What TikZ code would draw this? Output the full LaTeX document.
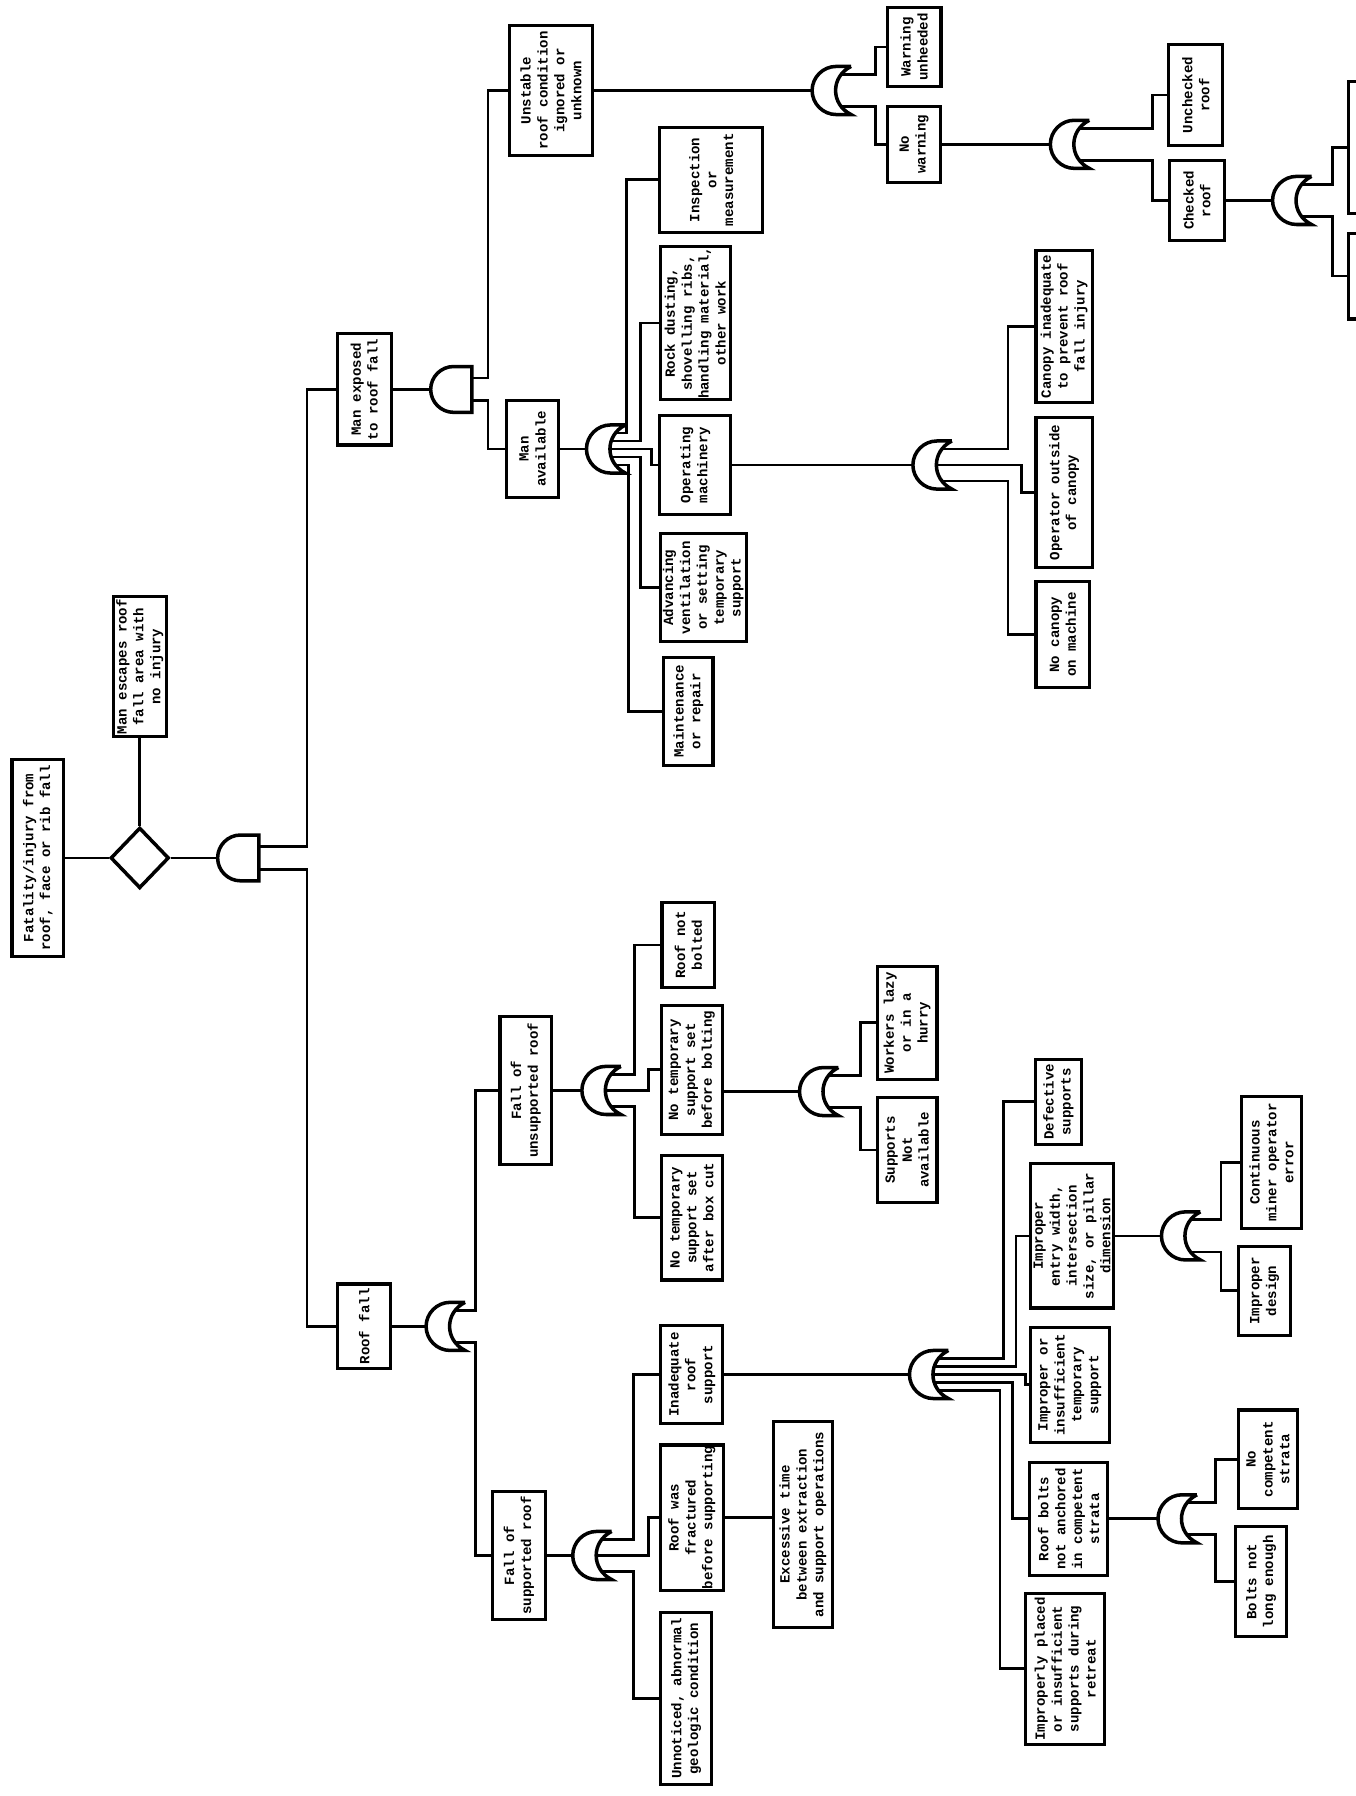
\documentclass[tikz,border=0pt]{standalone}
\usepackage{fontspec}
\setmainfont{Liberation Sans}
\setmonofont{Liberation Mono}
\usetikzlibrary{shapes.geometric}
\begin{document}
\begin{tikzpicture}[x=0.0229cm,y=-0.0229cm,
    every node/.style={font=\ttfamily\bfseries\fontsize{8}{9.6}\selectfont},
    box/.style={draw,line width=1.8pt,rotate=90,align=center,inner sep=0.5pt},
    sz/.style 2 args={minimum height=#1*0.0229cm,minimum width=#2*0.0229cm},
    cond/.style={draw,diamond,line width=2pt,inner sep=0pt,
      minimum width=51*0.0229cm,minimum height=53*0.0229cm},
    wire/.style={line width=1.6pt},
    gate/.style={line width=2pt},
    andgate/.pic={
      \draw[gate] (36,-20) -- (20,-20) .. controls (9,-20) and (0,-11) .. (0,0)
        .. controls (0,11) and (9,20) .. (20,20) -- (36,20) -- cycle;
      \coordinate (-o) at (0,0);
      \coordinate (-a) at (36,-10);
      \coordinate (-b) at (36,10);},
    orgate/.pic={
      \draw[gate] (34,-21) -- (21,-21) .. controls (9.5,-21) and (0,-11.5) .. (0,0)
        .. controls (0,11.5) and (9.5,21) .. (21,21) -- (34,21)
        .. controls (16,12) and (16,-12) .. (34,-21);
      \coordinate (-o) at (0,0);
      \coordinate (-a) at (26,-14);
      \coordinate (-c) at (22,-7);
      \coordinate (-m) at (20.5,0);
      \coordinate (-d) at (22,7);
      \coordinate (-b) at (26,14);}]
\useasboundingbox (0,0) rectangle (1183,1568);

% top event
\node[box,sz={45}{172}] (top) at (33,749) {Fatality/injury from\\roof, face or rib fall};
\node[cond] (hx) at (122,749) {};
\node[box,sz={46}{122}] (esc) at (122,582) {Man escapes roof\\fall area with\\no injury};
\pic (g0) at (190,749) {andgate};

% man exposed
\node[box,sz={47}{97}] (exp) at (318,340) {Man exposed\\to roof fall};
\pic (g1) at (376,340) {andgate};
\node[box,sz={72}{114}] (uns) at (481,79) {Unstable\\roof condition\\ignored or\\unknown};
\node[box,sz={45}{85}] (avl) at (465,392) {Man\\available};
\pic (g2) at (512,392) {orgate};
\node[box,sz={90}{92}] (insp) at (621,157) {Inspection\\or\\measurement};
\node[box,sz={61}{130}] (rock) at (607,282) {Rock dusting,\\shovelling ribs,\\handling material,\\other work};
\node[box,sz={62}{86}] (mach) at (607,406) {Operating\\machinery};
\node[box,sz={75}{94}] (vent) at (614,513) {Advancing\\ventilation\\or setting\\temporary\\support};
\node[box,sz={43}{94}] (mnt) at (601,621) {Maintenance\\or repair};
\pic (g3) at (797,406) {orgate};
\node[box,sz={49}{133}] (cnp) at (929,285) {Canopy inadequate\\to prevent roof\\fall injury};
\node[box,sz={49}{131}] (opr) at (929,430) {Operator outside\\of canopy};
\node[box,sz={47}{92}] (noc) at (928,554) {No canopy\\on machine};
\pic (g4) at (709,79) {orgate};
\node[box,sz={47}{69}] (unh) at (798,41) {Warning\\unheeded};
\node[box,sz={46}{66}] (nwr) at (798,126) {No\\warning};
\pic (g5) at (917,126) {orgate};
\node[box,sz={47}{88}] (unc) at (1044,83) {Unchecked\\roof};
\node[box,sz={48}{70}] (chk) at (1045,175) {Checked\\roof};
\pic (g6) at (1111,175) {orgate};
\node[box,sz={80}{115}] (cut1) at (1217,129) {};
\node[box,sz={80}{75}] (cut2) at (1217,241) {};

% roof fall
\node[box,sz={46}{74}] (rf) at (318,1158) {Roof fall};
\pic (g7) at (372,1158) {orgate};
\node[box,sz={45}{129}] (fun) at (459,952) {Fall of\\unsupported roof};
\node[box,sz={46}{112}] (fsu) at (453,1358) {Fall of\\supported roof};
\pic (g8) at (508,952) {orgate};
\node[box,sz={46}{74}] (nbt) at (601,825) {Roof not\\bolted};
\node[box,sz={53}{113}] (tsb) at (604,934) {No temporary\\support set\\before bolting};
\node[box,sz={53}{109}] (tsa) at (604,1063) {No temporary\\support set\\after box cut};
\pic (g9) at (698,953) {orgate};
\node[box,sz={52}{99}] (lzy) at (792,893) {Workers lazy\\or in a\\hurry};
\node[box,sz={52}{91}] (nsa) at (792,1004) {Supports\\Not\\available};
\pic (g10) at (500,1358) {orgate};
\node[box,sz={54}{86}] (ina) at (604,1200) {Inadequate\\roof\\support};
\node[box,sz={55}{127}] (frc) at (604,1325) {Roof was\\fractured\\before supporting};
\node[box,sz={52}{180}] (exc) at (701,1331) {Excessive time\\between extraction\\and support operations};
\node[box,sz={45}{150}] (geo) at (599,1483) {Unnoticed, abnormal\\geologic condition};
\pic (g11) at (794,1200) {orgate};
\node[box,sz={40}{74}] (dfs) at (924,962) {Defective\\supports};
\node[box,sz={72}{126}] (ent) at (936,1079) {Improper\\entry width,\\intersection\\size, or pillar\\dimension};
\node[box,sz={69}{100}] (tmp) at (934,1209) {Improper or\\insufficient\\temporary\\support};
\node[box,sz={68}{99}] (anc) at (933,1326) {Roof bolts\\not anchored\\in competent\\strata};
\node[box,sz={69}{132}] (ret) at (930,1457) {Improperly placed\\or insufficient\\supports during\\retreat};
\pic (g12) at (1014,1079) {orgate};
\node[box,sz={52}{115}] (cmo) at (1110,1015) {Continuous\\miner operator\\error};
\node[box,sz={45}{78}] (dsg) at (1104,1127) {Improper\\design};
\pic (g13) at (1011,1326) {orgate};
\node[box,sz={52}{86}] (ncs) at (1107,1274) {No\\competent\\strata};
\node[box,sz={44}{96}] (bnl) at (1101,1381) {Bolts not\\long enough};

% connections
\draw[wire] (top.south) -- (hx.west);
\draw[wire] (hx.north) -- (esc.west);
\draw[wire] (hx.east) -- (g0-o);
\draw[wire] (g0-a) -| (268,0 |- exp.north) -- (exp.north);
\draw[wire] (g0-b) -| (268,0 |- rf.north) -- (rf.north);
\draw[wire] (exp.south) -- (g1-o);
\draw[wire] (g1-a) -| (426,0 |- uns.north) -- (uns.north);
\draw[wire] (g1-b) -| (426,0 |- avl.north) -- (avl.north);
\draw[wire] (avl.south) -- (g2-o);
\draw[wire] (g2-a) -| (547,0 |- insp.north) -- (insp.north);
\draw[wire] (g2-c) -| (559,0 |- rock.north) -- (rock.north);
\draw[wire] (g2-m) -| (569,0 |- mach.north) -- (mach.north);
\draw[wire] (g2-d) -| (559,0 |- vent.north) -- (vent.north);
\draw[wire] (g2-b) -| (549,0 |- mnt.north) -- (mnt.north);
\draw[wire] (mach.south) -- (g3-o);
\draw[wire] (g3-a) -| (880,0 |- cnp.north) -- (cnp.north);
\draw[wire] (g3-m) -| (892,0 |- opr.north) -- (opr.north);
\draw[wire] (g3-b) -| (880,0 |- noc.north) -- (noc.north);
\draw[wire] (uns.south) -- (g4-o);
\draw[wire] (g4-a) -| (764,0 |- unh.north) -- (unh.north);
\draw[wire] (g4-b) -| (764,0 |- nwr.north) -- (nwr.north);
\draw[wire] (nwr.south) -- (g5-o);
\draw[wire] (g5-a) -| (1006,0 |- unc.north) -- (unc.north);
\draw[wire] (g5-b) -| (1006,0 |- chk.north) -- (chk.north);
\draw[wire] (chk.south) -- (g6-o);
\draw[wire] (g6-a) -| (1163,0 |- cut1.north) -- (cut1.north);
\draw[wire] (g6-b) -| (1163,0 |- cut2.north) -- (cut2.north);
\draw[wire] (rf.south) -- (g7-o);
\draw[wire] (g7-a) -| (415,0 |- fun.north) -- (fun.north);
\draw[wire] (g7-b) -| (415,0 |- fsu.north) -- (fsu.north);
\draw[wire] (fun.south) -- (g8-o);
\draw[wire] (g8-a) -| (554,0 |- nbt.north) -- (nbt.north);
\draw[wire] (g8-m) -| (566,0 |- tsb.north) -- (tsb.north);
\draw[wire] (g8-b) -| (554,0 |- tsa.north) -- (tsa.north);
\draw[wire] (tsb.south |- g9-o) -- (g9-o);
\draw[wire] (g9-a) -| (751,0 |- lzy.north) -- (lzy.north);
\draw[wire] (g9-b) -| (751,0 |- nsa.north) -- (nsa.north);
\draw[wire] (fsu.south) -- (g10-o);
\draw[wire] (g10-a) -| (553,0 |- ina.north) -- (ina.north);
\draw[wire] (g10-m) -| (566,0 |- frc.north) -- (frc.north);
\draw[wire] (g10-b) -| (553,0 |- geo.north) -- (geo.north);
\draw[wire] (frc.south) -- (frc.south -| exc.north);
\draw[wire] (ina.south) -- (g11-o);
\draw[wire] (g11-a) -| (876,0 |- dfs.north) -- (dfs.north);
\draw[wire] (g11-c) -| (887,0 |- ent.north) -- (ent.north);
\draw[wire] (g11-m) -| (895,0 |- tmp.north) -- (tmp.north);
\draw[wire] (g11-d) -| (884,0 |- anc.north) -- (anc.north);
\draw[wire] (g11-b) -| (873,0 |- ret.north) -- (ret.north);
\draw[wire] (ent.south) -- (g12-o);
\draw[wire] (g12-a) -| (1066,0 |- cmo.north) -- (cmo.north);
\draw[wire] (g12-b) -| (1066,0 |- dsg.north) -- (dsg.north);
\draw[wire] (anc.south) -- (g13-o);
\draw[wire] (g13-a) -| (1061,0 |- ncs.north) -- (ncs.north);
\draw[wire] (g13-b) -| (1061,0 |- bnl.north) -- (bnl.north);
\end{tikzpicture}
\end{document}
